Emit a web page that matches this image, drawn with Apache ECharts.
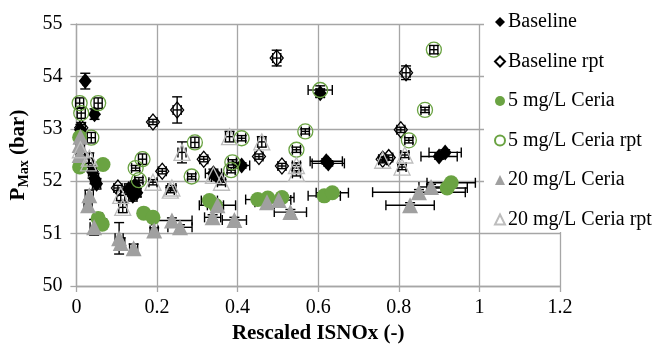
<!DOCTYPE html>
<html>
<head>
<meta charset="utf-8">
<script src="https://cdn.jsdelivr.net/npm/echarts@6/dist/echarts.min.js"></script>
<style>
  html, body { margin: 0; padding: 0; background: #fff; }
  #chart { width: 664px; height: 349px; }
</style>
</head>
<body>
<div id="chart"></div>
<script>
// each point: [x, y, x error, y error]
const baseline = [
  [0.022, 53.91, 0.005, 0.15], [0.045, 53.28, 0.008, 0.1], [0.01, 52.98, 0.005, 0.1],
  [0.04, 52.18, 0.01, 0.12], [0.045, 52.05, 0.01, 0.1], [0.05, 51.95, 0.01, 0.1],
  [0.13, 51.85, 0.01, 0.1], [0.14, 51.72, 0.01, 0.1], [0.15, 51.78, 0.01, 0.08],
  [0.145, 51.92, 0.01, 0.08], [0.34, 52.15, 0.02, 0.08], [0.35, 52.08, 0.015, 0.05],
  [0.41, 52.3, 0.02, 0.05], [0.605, 53.68, 0.01, 0.08], [0.62, 52.38, 0.04, 0.05],
  [0.625, 52.34, 0.04, 0.05], [0.9, 52.47, 0.045, 0.05], [0.915, 52.55, 0.04, 0.05]
]
const baselineRpt = [
  [0.19, 53.13, 0.01, 0.05], [0.25, 53.36, 0.01, 0.25], [0.497, 54.35, 0.01, 0.15],
  [0.818, 54.07, 0.01, 0.13], [0.805, 52.98, 0.01, 0.05], [0.775, 52.45, 0.01, 0.05],
  [0.76, 52.42, 0.01, 0.05], [0.316, 52.42, 0.01, 0.05], [0.213, 52.19, 0.01, 0.05],
  [0.453, 52.47, 0.01, 0.05], [0.51, 52.29, 0.01, 0.05], [0.103, 51.87, 0.01, 0.05],
  [0.012, 53.02, 0.01, 0.1]
]
const ceria5 = [
  [0.008, 52.84, 0.005, 0.05], [0.008, 52.27, 0.005, 0.05], [0.066, 52.32, 0.005, 0.05],
  [0.054, 51.29, 0.01, 0.1], [0.064, 51.18, 0.01, 0.1], [0.167, 51.39, 0.01, 0.05],
  [0.19, 51.31, 0.01, 0.05], [0.33, 51.63, 0.02, 0.05], [0.345, 51.54, 0.02, 0.05],
  [0.45, 51.65, 0.03, 0.05], [0.475, 51.68, 0.03, 0.05], [0.51, 51.69, 0.03, 0.05],
  [0.615, 51.72, 0.04, 0.05], [0.635, 51.78, 0.04, 0.05], [0.92, 51.87, 0.05, 0.05],
  [0.93, 51.97, 0.06, 0.05]
]
const ceria5Rpt = [
  [0.008, 53.49, 0.01, 0.1], [0.054, 53.49, 0.01, 0.1], [0.012, 53.3, 0.01, 0.1],
  [0.037, 52.83, 0.01, 0.1], [0.164, 52.42, 0.01, 0.1], [0.147, 52.25, 0.01, 0.05],
  [0.155, 52.02, 0.01, 0.05], [0.294, 52.74, 0.01, 0.1], [0.41, 52.82, 0.01, 0.05],
  [0.387, 52.36, 0.01, 0.05], [0.384, 52.21, 0.01, 0.05], [0.286, 52.09, 0.01, 0.05],
  [0.546, 52.6, 0.01, 0.05], [0.605, 53.74, 0.03, 0.08], [0.865, 53.36, 0.01, 0.05],
  [0.825, 52.78, 0.01, 0.05], [0.568, 52.95, 0.01, 0.05], [0.887, 54.51, 0.01, 0.08]
]
const ceria20 = [
  [0.008, 52.69, 0.005, 0.1], [0.008, 52.5, 0.005, 0.1], [0.01, 52.85, 0.005, 0.1],
  [0.032, 51.73, 0.01, 0.1], [0.029, 51.54, 0.01, 0.1], [0.044, 51.12, 0.01, 0.15],
  [0.106, 50.91, 0.01, 0.3], [0.11, 50.82, 0.01, 0.1], [0.142, 50.72, 0.01, 0.08],
  [0.193, 51.06, 0.01, 0.05], [0.237, 51.25, 0.05, 0.05], [0.257, 51.12, 0.03, 0.05],
  [0.35, 51.54, 0.045, 0.05], [0.338, 51.31, 0.02, 0.05], [0.392, 51.26, 0.03, 0.05],
  [0.473, 51.6, 0.03, 0.05], [0.502, 51.64, 0.03, 0.05], [0.531, 51.41, 0.04, 0.05],
  [0.85, 51.79, 0.115, 0.05], [0.828, 51.54, 0.06, 0.05], [0.88, 51.89, 0.03, 0.05]
]
const ceria20Rpt = [
  [0.032, 52.44, 0.01, 0.1], [0.11, 51.73, 0.01, 0.1], [0.115, 51.5, 0.01, 0.1],
  [0.19, 51.98, 0.01, 0.05], [0.237, 51.87, 0.01, 0.05], [0.262, 52.55, 0.01, 0.2],
  [0.38, 52.85, 0.01, 0.1], [0.46, 52.75, 0.01, 0.1], [0.233, 51.83, 0.01, 0.05],
  [0.36, 51.98, 0.01, 0.05], [0.34, 52.11, 0.01, 0.05], [0.546, 52.3, 0.01, 0.05],
  [0.546, 52.15, 0.01, 0.05], [0.815, 52.5, 0.01, 0.05], [0.808, 52.27, 0.01, 0.05],
  [0.76, 52.4, 0.01, 0.05], [0.01, 52.6, 0.01, 0.1], [0.03, 52.35, 0.01, 0.08]
]
const seriesNames = ['Baseline', 'Baseline rpt', '5 mg/L Ceria', '5 mg/L Ceria rpt', '20 mg/L Ceria', '20 mg/L Ceria rpt']

const font = 'Liberation Serif, Times New Roman, serif'
const gridColor = '#a6a6a6'

function errorBar (params, api) {
  const x = api.value(0)
  const y = api.value(1)
  const ex = api.value(2)
  const ey = api.value(3)
  const l = api.coord([x - ex, y])
  const r = api.coord([x + ex, y])
  const t = api.coord([x, y + ey])
  const b = api.coord([x, y - ey])
  const cap = 5
  const style = { stroke: '#000', lineWidth: 1.4 }
  const line = (x1, y1, x2, y2) => ({ type: 'line', shape: { x1, y1, x2, y2 }, style })
  return {
    type: 'group',
    children: [
      line(l[0], l[1], r[0], r[1]),
      line(l[0], l[1] - cap, l[0], l[1] + cap),
      line(r[0], r[1] - cap, r[0], r[1] + cap),
      line(t[0], t[1], b[0], b[1]),
      line(t[0] - cap, t[1], t[0] + cap, t[1]),
      line(b[0] - cap, b[1], b[0] + cap, b[1])
    ]
  }
}

const chart = echarts.init(document.getElementById('chart'))
chart.setOption({
  animation: false,
  grid: { left: 70, right: 104, top: 24, bottom: 63 },
  xAxis: {
    type: 'value',
    min: 0,
    max: 1.2,
    interval: 0.2,
    name: 'Rescaled ISNOx (-)',
    nameLocation: 'middle',
    nameGap: 36,
    nameTextStyle: { fontFamily: font, fontSize: 21, fontWeight: 'bold', color: '#000' },
    axisLine: { lineStyle: { color: gridColor, width: 1.3 } },
    axisTick: { show: true, length: 6, lineStyle: { color: gridColor, width: 1.3 } },
    axisLabel: { fontFamily: font, fontSize: 20, color: '#000', margin: 12 },
    splitLine: { show: true, lineStyle: { color: gridColor, width: 1.3 } }
  },
  yAxis: {
    type: 'value',
    min: 50,
    max: 55,
    interval: 1,
    name: '{p|P}{s|Max}{p| (bar)}',
    nameLocation: 'middle',
    nameGap: 44,
    nameRotate: 90,
    nameTextStyle: {
      rich: {
        p: { fontFamily: font, fontSize: 21, fontWeight: 'bold', color: '#000' },
        s: { fontFamily: font, fontSize: 14, fontWeight: 'bold', color: '#000', padding: [12, 0, 0, 0] }
      }
    },
    axisLine: { show: true, lineStyle: { color: gridColor, width: 1.3 } },
    axisTick: { show: true, length: 6, lineStyle: { color: gridColor, width: 1.3 } },
    axisLabel: { fontFamily: font, fontSize: 20, color: '#000', margin: 14 },
    splitLine: { show: true, lineStyle: { color: gridColor, width: 1.3 } }
  },
  legend: {
    data: seriesNames,
    orient: 'vertical',
    left: 489,
    top: 7,
    itemWidth: 10,
    itemHeight: 10,
    itemGap: 19.5,
    textStyle: { fontFamily: font, fontSize: 20, color: '#000', lineHeight: 20, padding: [0, 0, 0, -2] }
  },
  graphic: [
    { type: 'rect', z: 3, shape: { x: 484, y: 0, width: 180, height: 232 }, style: { fill: '#fff' } }
  ],
  series: [
    {
      type: 'custom',
      name: 'errors',
      renderItem: errorBar,
      encode: { x: 0, y: 1 },
      data: [].concat(baseline, baselineRpt, ceria5, ceria5Rpt, ceria20, ceria20Rpt),
      z: 1
    },
    {
      name: seriesNames[0], type: 'scatter', symbol: 'diamond', symbolSize: [13, 16], z: 2,
      itemStyle: { color: '#000', opacity: 1 }, data: baseline
    },
    {
      name: seriesNames[1], type: 'scatter', symbol: 'diamond', symbolSize: [13, 16], z: 2,
      itemStyle: { color: 'rgba(255,255,255,0)', borderColor: '#000', borderWidth: 1.3, opacity: 1 }, data: baselineRpt
    },
    {
      name: seriesNames[2], type: 'scatter', symbol: 'circle', symbolSize: 15, z: 2,
      itemStyle: { color: '#6aa342', opacity: 1 }, data: ceria5
    },
    {
      name: seriesNames[3], type: 'scatter', symbol: 'circle', symbolSize: 15, z: 2,
      itemStyle: { color: 'rgba(255,255,255,0)', borderColor: '#6aa342', borderWidth: 1.3, opacity: 1 }, data: ceria5Rpt
    },
    {
      name: seriesNames[4], type: 'scatter', symbol: 'triangle', symbolSize: 16, z: 2,
      itemStyle: { color: '#a0a0a0', opacity: 1 }, data: ceria20
    },
    {
      name: seriesNames[5], type: 'scatter', symbol: 'triangle', symbolSize: 16, z: 2,
      itemStyle: { color: 'rgba(255,255,255,0)', borderColor: '#bdbdbd', borderWidth: 1.3, opacity: 1 }, data: ceria20Rpt
    }
  ]
})
</script>
</body>
</html>
